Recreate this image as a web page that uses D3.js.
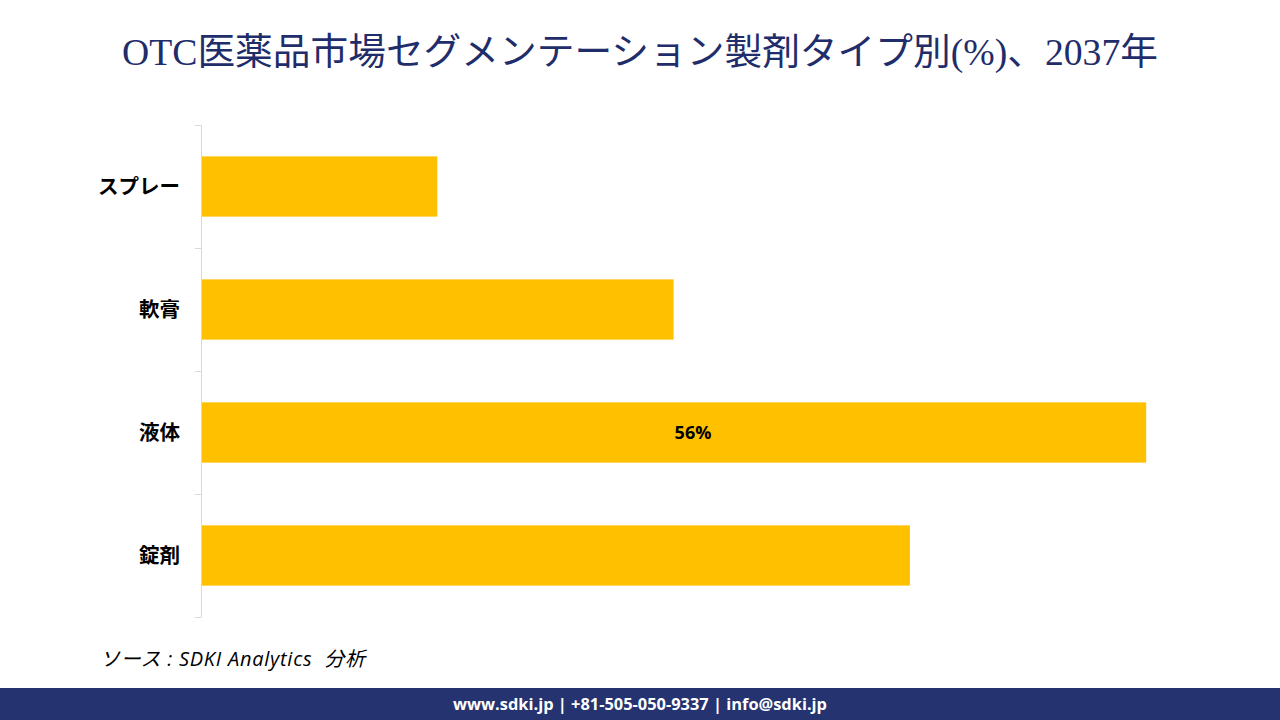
<!DOCTYPE html>
<html><head><meta charset="utf-8">
<script src="https://cdn.jsdelivr.net/npm/d3@7"></script>
<style>body{margin:0;background:#fff;}svg{display:block;}</style>
</head><body>
<svg id="c" width="1280" height="720"></svg>
<script>
const categories = ["スプレー", "軟膏", "液体", "錠剤"];
const values = [14, 28, 56, 42];
const labelShown = [false, false, true, false];
const title = "OTC医薬品市場セグメンテーション製剤タイプ別(%)、2037年";
const source = "ソース : SDKI Analytics  分析";
const footer = "www.sdki.jp | +81-505-050-9337 | info@sdki.jp";

const svg = d3.select("#c");
const pLeft = 201, pTop = 125, pBottom = 617, pRight = 1185;
const x = d3.scaleLinear().domain([0, 58.3]).range([pLeft, pRight]);
const y = d3.scaleBand().domain(categories).range([pTop, pBottom]).paddingInner(0.51).paddingOuter(0.255);

svg.append("text").attr("x", 640).attr("y", 65).attr("text-anchor", "middle")
  .attr("font-family", "'Liberation Serif','DejaVu Serif','Noto Sans CJK JP',serif")
  .attr("font-size", 37).attr("fill", "#1f2d6b")
  .attr("textLength", 1036).attr("lengthAdjust", "spacingAndGlyphs").text(title);

svg.selectAll("rect.bar").data(values).join("rect").attr("class", "bar")
  .attr("x", x(0)).attr("y", (d, i) => y(categories[i]))
  .attr("width", d => x(d) - x(0)).attr("height", y.bandwidth())
  .attr("fill", "#ffc000");

const axisG = svg.append("g");
axisG.append("line").attr("x1", pLeft + 0.5).attr("x2", pLeft + 0.5).attr("y1", pTop).attr("y2", pBottom)
  .attr("stroke", "#d9d9d9").attr("stroke-width", 1);
const tickYs = d3.range(categories.length + 1).map(i => pTop + i * (pBottom - pTop) / categories.length);
axisG.selectAll("line.tk").data(tickYs).join("line").attr("class", "tk")
  .attr("x1", pLeft - 6).attr("x2", pLeft + 0.5).attr("y1", d => d + 0.5).attr("y2", d => d + 0.5)
  .attr("stroke", "#d9d9d9");

svg.selectAll("text.cat").data(categories).join("text").attr("class", "cat")
  .attr("x", 180).attr("y", d => y(d) + y.bandwidth() / 2).attr("dy", "0.35em")
  .attr("text-anchor", "end").attr("font-family", "'Noto Sans CJK JP','Noto Sans',sans-serif")
  .attr("font-weight", "bold").attr("font-size", 20.5).attr("fill", "#000").text(d => d);

svg.selectAll("text.val").data(values.filter((d, i) => labelShown[i])).join("text").attr("class", "val")
  .attr("x", (pLeft + pRight) / 2).attr("y", (d) => y(categories[values.indexOf(d)]) + y.bandwidth() / 2)
  .attr("dy", "0.35em").attr("text-anchor", "middle")
  .attr("font-family", "'Open Sans','Noto Sans',sans-serif").attr("font-weight", "bold")
  .attr("font-size", 18).attr("fill", "#000").text(d => d + "%");

svg.append("text").attr("x", 100).attr("y", 666)
  .attr("font-family", "'Open Sans','Noto Sans CJK JP',sans-serif").attr("font-style", "italic")
  .attr("font-size", 20).attr("fill", "#000")
  .attr("textLength", 265).attr("lengthAdjust", "spacing")
  .attr("xml:space", "preserve").style("white-space", "pre").text(source);

svg.append("rect").attr("x", 0).attr("y", 688).attr("width", 1280).attr("height", 32).attr("fill", "#253370");
svg.append("text").attr("x", 640).attr("y", 710).attr("text-anchor", "middle")
  .attr("font-family", "'Open Sans','Noto Sans',sans-serif").attr("font-weight", "bold")
  .attr("font-size", 16.4).attr("fill", "#fff").text(footer);
</script>
</body></html>
